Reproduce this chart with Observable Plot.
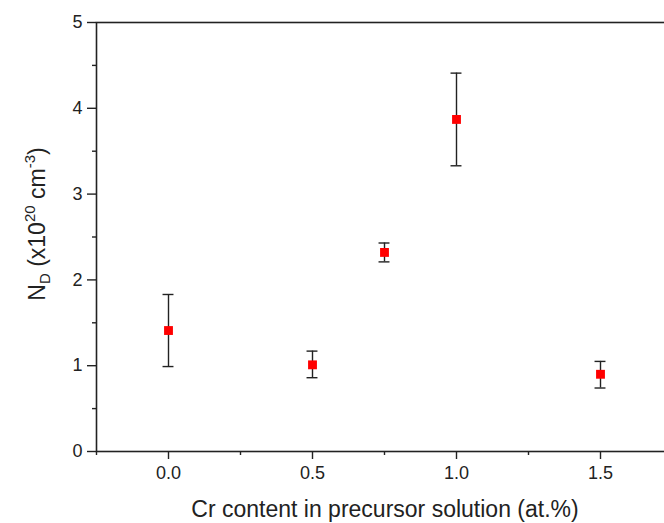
<!DOCTYPE html>
<html>
<head>
<meta charset="utf-8">
<script src="https://cdn.jsdelivr.net/npm/d3@7"></script>
<script src="https://cdn.jsdelivr.net/npm/@observablehq/plot@0.6"></script>
<style>
  html, body { margin: 0; padding: 0; background: #fff; overflow: hidden; }
  #chart svg { display: block; }
</style>
</head>
<body>
<div id="chart"></div>
<script>
// Data
const crContent = [0.0, 0.5, 0.75, 1.0, 1.5];
const ndValue   = [1.41, 1.01, 2.32, 3.87, 0.90];
const ndLow     = [0.99, 0.86, 2.21, 3.33, 0.74];
const ndHigh    = [1.83, 1.17, 2.43, 4.41, 1.05];
const xMajorTicks = [0.0, 0.5, 1.0, 1.5];
const xMinorTicks = [-0.25, 0.25, 0.75, 1.25, 1.75];
const yMajorTicks = [0, 1, 2, 3, 4, 5];
const yMinorTicks = [0.5, 1.5, 2.5, 3.5, 4.5];
const xTitle = "Cr content in precursor solution (at.%)";

const rows = crContent.map((x, i) => ({x, y: ndValue[i], lo: ndLow[i], hi: ndHigh[i]}));
const capHalf = 0.019;
const ink = "#222";

const chart = Plot.plot({
  width: 664,
  height: 523,
  marginLeft: 96,
  marginRight: -8,
  marginTop: 22,
  marginBottom: 72,
  x: {domain: [-0.25, 1.75]},
  y: {domain: [0, 5]},
  style: {fontFamily: "'Liberation Sans', Arial, sans-serif", fontSize: "18px", color: ink, background: "#fff", overflow: "visible"},
  marks: [
    Plot.axisX({ticks: xMajorTicks, tickFormat: d3.format(".1f"), tickSize: 8, tickPadding: 7, label: null, stroke: ink, strokeWidth: 1.4}),
    Plot.axisX({ticks: xMinorTicks, tickFormat: () => "", tickSize: 4, label: null, stroke: ink, strokeWidth: 1.4}),
    Plot.axisY({ticks: yMajorTicks, tickFormat: d3.format("d"), tickSize: 9, tickPadding: 5, label: null, stroke: ink, strokeWidth: 1.4}),
    Plot.axisY({ticks: yMinorTicks, tickFormat: () => "", tickSize: 4, label: null, stroke: ink, strokeWidth: 1.4}),
    Plot.frame({stroke: ink, strokeWidth: 1.6}),
    Plot.ruleX(rows, {x: "x", y1: "lo", y2: "hi", stroke: ink, strokeWidth: 1.4}),
    Plot.ruleY(rows, {y: "hi", x1: d => d.x - capHalf, x2: d => d.x + capHalf, stroke: ink, strokeWidth: 1.4}),
    Plot.ruleY(rows, {y: "lo", x1: d => d.x - capHalf, x2: d => d.x + capHalf, stroke: ink, strokeWidth: 1.4}),
    Plot.dot(rows, {x: "x", y: "y", symbol: "square", r: 5, fill: "#ff0000", stroke: "none"})
  ]
});

document.getElementById("chart").appendChild(chart);

const svg = d3.select(chart);
// x-axis title
svg.append("text")
  .attr("x", 385)
  .attr("y", 517)
  .attr("text-anchor", "middle")
  .attr("font-family", "'Liberation Sans', Arial, sans-serif")
  .attr("font-size", 23)
  .attr("fill", ink)
  .text(xTitle);

// y-axis title with sub/superscripts
const yt = svg.append("text")
  .attr("transform", "translate(45,224) rotate(-90)")
  .attr("text-anchor", "middle")
  .attr("font-family", "'Liberation Sans', Arial, sans-serif")
  .attr("font-size", 23)
  .attr("fill", ink);
yt.append("tspan").text("N");
yt.append("tspan").attr("font-size", 15).attr("dy", 5).text("D");
yt.append("tspan").attr("dy", -5).text(" (x10");
yt.append("tspan").attr("font-size", 15).attr("dy", -10).text("20");
yt.append("tspan").attr("dy", 10).text(" cm");
yt.append("tspan").attr("font-size", 15).attr("dy", -10).text("-3");
yt.append("tspan").attr("dy", 10).text(")");
</script>
</body>
</html>
